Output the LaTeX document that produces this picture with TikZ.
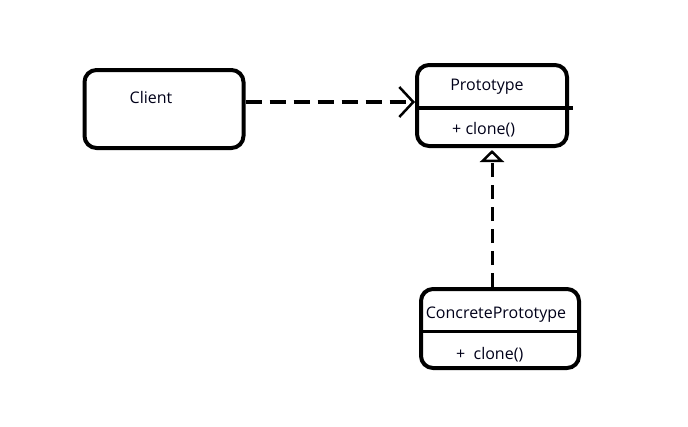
\documentclass[tikz,border=0pt]{standalone}
\usepackage{fontspec}
\setmainfont{Open Sans}
\usetikzlibrary{arrows.meta}
\tikzset{
  box/.style={draw=black, line width=4pt, rounded corners=12pt, fill=white, inner sep=0pt},
  lbl/.style={font=\fontsize{16}{18}\selectfont, inner sep=0pt, text=black!90!blue},
  dep/.style={line width=3.5pt, dash pattern=on 16pt off 8pt,
    -{Straight Barb[length=14pt, width=30pt, line width=2.5pt]}},
  real/.style={line width=3pt, dash pattern=on 14pt off 8pt,
    -{Triangle[open, length=12pt, width=24pt, line width=2.5pt, fill=white]}},
}
\begin{document}
\begin{tikzpicture}[x=1pt, y=-1pt]
  \useasboundingbox (0,0) rectangle (688,426);
  % boxes
  \node[box, minimum width=159pt, minimum height=78pt] (client) at (164,109) {};
  \node[box, minimum width=150pt, minimum height=81pt] (proto) at (492,105.5) {};
  \node[box, minimum width=158pt, minimum height=79pt] (concrete) at (500,328.5) {};
  % dividers
  \coordinate (pdl) at (417,108);
  \coordinate (pdr) at (573,108);
  \draw[line width=4pt] (pdl) -- (pdr);
  \coordinate (cdl) at (421,331.5);
  \coordinate (cdr) at (579,331.5);
  \draw[line width=2.5pt] (cdl) -- (cdr);
  % labels
  \node[lbl] (clientlbl) at (151,97) {Client};
  \node[lbl] (protolbl) at (487,87) {Prototype};
  \node[lbl, anchor=west] (protoop) at (452,130) {+ clone()};
  \node[lbl] (concretelbl) at (496,315) {ConcretePrototype};
  \node[lbl, anchor=west] (concreteop) at (456,355) {+\ \ clone()};
  % connectors
  \draw[dep] ([yshift=7pt]client.east) -- ([yshift=3.5pt]proto.west);
  \draw[real] ([xshift=-8pt]concrete.north) -- ([yshift=-2pt]proto.south);
\end{tikzpicture}
\end{document}
